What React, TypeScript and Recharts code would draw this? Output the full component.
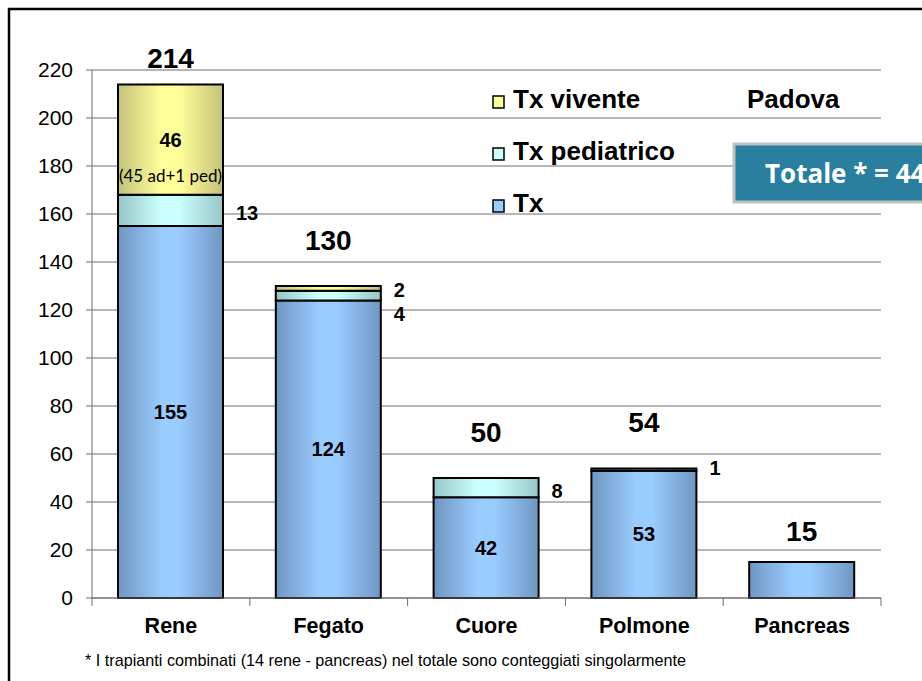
import React from 'react';
import { BarChart, Bar, XAxis, YAxis, CartesianGrid, LabelList } from 'recharts';

const categories = ['Rene', 'Fegato', 'Cuore', 'Polmone', 'Pancreas'];
const txValues = [155, 124, 42, 53, 15];
const pedValues = [13, 4, 8, 1, 0];
const viventeValues = [46, 2, 0, 0, 0];
const viventeNotes = ['(45 ad+1 ped)', '', '', '', ''];
const yTicks = [0, 20, 40, 60, 80, 100, 120, 140, 160, 180, 200, 220];
const legendItems = [
  { label: 'Tx vivente', color: '#ffff99' },
  { label: 'Tx pediatrico', color: '#ccffff' },
  { label: 'Tx', color: '#99ccff' },
];
const totalText = 'Totale * = 449';
const cityText = 'Padova';
const footnote = '* I trapianti combinati (14 rene - pancreas) nel totale sono conteggiati singolarmente';

const data = categories.map((name, i) => ({
  name,
  tx: txValues[i],
  ped: pedValues[i],
  viv: viventeValues[i],
  note: viventeNotes[i],
  total: txValues[i] + pedValues[i] + viventeValues[i],
}));

const FONT = '"Liberation Sans", Arial, sans-serif';
const CALIBRI = 'Lato, "Open Sans", sans-serif';
const AXIS_COLOR = '#6e6e6e';

const TxLabels = (p: any) => {
  const d = data[p.index];
  if (!d) return null;
  const cx = p.x + p.width / 2;
  const ppu = Math.abs(p.height) / d.tx;
  const extra = d.ped + d.viv;
  const top = p.y - extra * ppu;
  const gap = extra > 0 ? 46 : 31;
  const out: any[] = [
    <text key="t" x={cx} y={Math.max(top - gap, 58)} textAnchor="middle" dominantBaseline="central"
      fontFamily={FONT} fontWeight="bold" fontSize={28} fill="#000">{d.total}</text>,
  ];
  if (extra > 0) {
    out.push(
      <text key="i" x={cx} y={p.y + p.height / 2} textAnchor="middle" dominantBaseline="central"
        fontFamily={FONT} fontWeight="bold" fontSize={20} fill="#000">{d.tx}</text>
    );
  }
  return <g>{out}</g>;
};

const PedSide = (p: any) => {
  const d = data[p.index];
  if (!d || !d.ped) return null;
  const small = Math.abs(p.height) < 15;
  const shift = d.viv > 0 && small ? 18 : small ? -2 : 3;
  return (
    <text x={p.x + p.width + 13} y={p.y + p.height / 2 + shift} textAnchor="start" dominantBaseline="central"
      fontFamily={FONT} fontWeight="bold" fontSize={20} fill="#000">{d.ped}</text>
  );
};

const VivLabels = (p: any) => {
  const d = data[p.index];
  if (!d || !d.viv) return null;
  const cx = p.x + p.width / 2;
  if (Math.abs(p.height) > 30) {
    return (
      <g>
        <text x={cx} y={p.y + p.height / 2} textAnchor="middle" dominantBaseline="central"
          fontFamily={FONT} fontWeight="bold" fontSize={20} fill="#000">{d.viv}</text>
        {d.note ? (
          <text x={cx} y={p.y + p.height / 2 + 36} textAnchor="middle" dominantBaseline="central"
            fontFamily={CALIBRI} fontSize={17} fill="#000">{d.note}</text>
        ) : null}
      </g>
    );
  }
  return (
    <text x={p.x + p.width + 13} y={p.y + p.height / 2 + 2} textAnchor="start" dominantBaseline="central"
      fontFamily={FONT} fontWeight="bold" fontSize={20} fill="#000">{d.viv}</text>
  );
};

const CatTick = (p: any) => {
  const off = (p.payload && p.payload.offset) || 0;
  const lineTop = p.y - 8;
  return (
    <g>
      <line x1={p.x + off} x2={p.x + off} y1={lineTop} y2={p.y} stroke={AXIS_COLOR} />
      {p.index === 0 ? <line x1={p.x - off} x2={p.x - off} y1={lineTop} y2={p.y} stroke={AXIS_COLOR} /> : null}
      <text x={p.x} y={p.y + 27} textAnchor="middle" fontFamily={FONT} fontWeight="bold" fontSize={21.5} fill="#000">
        {p.payload.value}
      </text>
    </g>
  );
};

const grad = (id: string, edge: string, mid: string) => (
  <linearGradient id={id} x1="0" y1="0" x2="1" y2="0">
    <stop offset="0%" stopColor={edge} />
    <stop offset="42%" stopColor={mid} />
    <stop offset="58%" stopColor={mid} />
    <stop offset="100%" stopColor={edge} />
  </linearGradient>
);

export default function App() {
  return (
    <div style={{ position: 'absolute', left: 0, top: 0, width: 922, height: 681, overflow: 'hidden', background: '#fff' }}>
      <BarChart width={922} height={681} data={data} margin={{ top: 70, right: 41, bottom: 43, left: 0 }}>
        <defs>
          {grad('gTx', '#7096c2', '#99ccff')}
          {grad('gPed', '#98c6c6', '#ccffff')}
          {grad('gViv', '#c4c27a', '#ffff99')}
        </defs>
        <CartesianGrid vertical={false} stroke={AXIS_COLOR} strokeWidth={1} />
        <XAxis dataKey="name" height={40} axisLine={{ stroke: AXIS_COLOR }} tickLine={false} tickSize={8} tickMargin={0}
          tick={<CatTick />} interval={0} />
        <YAxis width={92} domain={[0, 220]} ticks={yTicks} interval={0} axisLine={{ stroke: AXIS_COLOR }}
          tickLine={{ stroke: AXIS_COLOR }} tickSize={6} tickMargin={13}
          tick={{ fill: '#000', fontFamily: FONT, fontSize: 21 }} />
        <Bar dataKey="tx" stackId="a" fill="url(#gTx)" stroke="#000" strokeWidth={2} barSize={105} isAnimationActive={false}>
          <LabelList dataKey="tx" content={TxLabels} />
        </Bar>
        <Bar dataKey="ped" stackId="a" fill="url(#gPed)" stroke="#000" strokeWidth={2} barSize={105} isAnimationActive={false}>
          <LabelList dataKey="ped" content={PedSide} />
        </Bar>
        <Bar dataKey="viv" stackId="a" fill="url(#gViv)" stroke="#000" strokeWidth={2} barSize={105} isAnimationActive={false}>
          <LabelList dataKey="viv" content={VivLabels} />
        </Bar>
      </BarChart>
      <svg width={922} height={681} style={{ position: 'absolute', left: 0, top: 0, pointerEvents: 'none' }}>
        <rect x={9} y={9} width={1200} height={1200} fill="none" stroke="#000" strokeWidth={2.5} />
        {legendItems.map((it, i) => (
          <g key={it.label}>
            <rect x={493} y={96 + i * 52} width={11} height={12} fill={it.color} stroke="#000" strokeWidth={1.5} />
            <text x={513} y={108 + i * 52} fontFamily={FONT} fontWeight="bold" fontSize={26} fill="#000">{it.label}</text>
          </g>
        ))}
        <text x={747} y={108} fontFamily={FONT} fontWeight="bold" fontSize={26} fill="#000">{cityText}</text>
        <rect x={734} y={144} width={400} height={58} fill="#2a7f9e" stroke="#c0c0c0" strokeWidth={3} />
        <text x={765} y={183} fontFamily='"Open Sans", Lato, sans-serif' fontWeight="bold" fontSize={26} fill="#fff">{totalText}</text>
        <text x={85} y={666} fontFamily={FONT} fontSize={16.2} fill="#000">{footnote}</text>
      </svg>
    </div>
  );
}
